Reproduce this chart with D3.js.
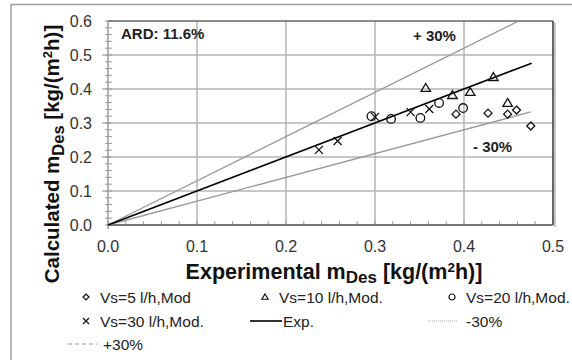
<!DOCTYPE html>
<html><head><meta charset="utf-8">
<script src="https://cdn.jsdelivr.net/npm/d3@7"></script>
<style>body{margin:0;background:#fff}svg{display:block}text{font-family:"Liberation Sans",Arial,sans-serif}</style>
</head><body>
<svg id="c" width="572" height="360"></svg>
<script>
// ---- data ----
const xTicks = [0, 0.1, 0.2, 0.3, 0.4, 0.5];
const xTickLabels = ["0.0", "0.1", "0.2", "0.3", "0.4", "0.5"];
const yTicks = [0, 0.1, 0.2, 0.3, 0.4, 0.5, 0.6];
const yTickLabels = ["0.0", "0.1", "0.2", "0.3", "0.4", "0.5", "0.6"];
const vs5 = [[0.391,0.326],[0.427,0.329],[0.449,0.326],[0.459,0.338],[0.475,0.291]];
const vs10 = [[0.357,0.403],[0.387,0.382],[0.407,0.391],[0.433,0.435],[0.449,0.359]];
const vs20 = [[0.296,0.320],[0.318,0.312],[0.351,0.315],[0.372,0.359],[0.399,0.344]];
const vs30 = [[0.237,0.221],[0.258,0.247],[0.300,0.318],[0.340,0.332],[0.361,0.341]];
const expLine = [[0,0],[0.476,0.476]];
const plus30 = [[0,0],[0.4615,0.6]];
const minus30 = [[0,0],[0.475,0.3325]];
const legendLabels = ["Vs=5 l/h,Mod","Vs=10 l/h,Mod.","Vs=20 l/h,Mod.","Vs=30 l/h,Mod.","Exp.","-30%","+30%"];

const svg = d3.select("#c");
const x = d3.scaleLinear().domain([0,0.5]).range([108,553]);
const y = d3.scaleLinear().domain([0,0.6]).range([225,21]);

// outer frame
svg.append("rect").attr("x",11).attr("y",4.5).attr("width",600).attr("height",400)
  .attr("fill","none").attr("stroke","#a0a0a0").attr("stroke-width",1.5);

// gridlines
const g = svg.append("g");
g.selectAll(".vg").data(xTicks.slice(1,-1)).join("line")
  .attr("x1",d=>x(d)).attr("x2",d=>x(d)).attr("y1",y(0.6)).attr("y2",y(0))
  .attr("stroke","#b4b4b4").attr("stroke-width",1.5);
g.selectAll(".hg").data(yTicks.slice(1,-1)).join("line")
  .attr("x1",x(0)-6).attr("x2",x(0.5)).attr("y1",d=>y(d)).attr("y2",d=>y(d))
  .attr("stroke","#b4b4b4").attr("stroke-width",1.5);

// minor ticks
const minorY = d3.range(0,0.6001,0.02);
g.selectAll(".my").data(minorY).join("line")
  .attr("x1",x(0)-3).attr("x2",x(0)+4).attr("y1",d=>y(d)).attr("y2",d=>y(d))
  .attr("stroke","#999").attr("stroke-width",1);
const minorX = d3.range(0,0.5001,0.02);
g.selectAll(".mx").data(minorX).join("line")
  .attr("x1",d=>x(d)).attr("x2",d=>x(d)).attr("y1",y(0)).attr("y2",y(0)-4)
  .attr("stroke","#999").attr("stroke-width",1);

// plot border with shadow
svg.append("line").attr("x1",x(0.5)+2).attr("x2",x(0.5)+2).attr("y1",y(0.6)+2).attr("y2",y(0)+2)
  .attr("stroke","#c8c8c8").attr("stroke-width",2);
svg.append("line").attr("x1",x(0)).attr("x2",x(0.5)).attr("y1",y(0.6)).attr("y2",y(0.6))
  .attr("stroke","#666").attr("stroke-width",1.5);
svg.append("line").attr("x1",x(0.5)).attr("x2",x(0.5)).attr("y1",y(0.6)).attr("y2",y(0))
  .attr("stroke","#555").attr("stroke-width",1.8);
// axes
svg.append("line").attr("x1",x(0)).attr("x2",x(0)).attr("y1",y(0.6)-1).attr("y2",y(0)+4)
  .attr("stroke","#999").attr("stroke-width",1.5);
svg.append("line").attr("x1",x(0)).attr("x2",x(0.5)).attr("y1",y(0)).attr("y2",y(0))
  .attr("stroke","#777").attr("stroke-width",2);

// tick labels
svg.selectAll(".yl").data(yTicks).join("text")
  .attr("x",92).attr("y",d=>y(d)+5.5).attr("text-anchor","end")
  .attr("font-size",16).attr("fill","#333").text((d,i)=>yTickLabels[i]);
svg.selectAll(".xl").data(xTicks).join("text")
  .attr("x",d=>x(d)).attr("y",252).attr("text-anchor","middle")
  .attr("font-size",16).attr("fill","#333").text((d,i)=>xTickLabels[i]);

// lines
const line = d3.line().x(d=>x(d[0])).y(d=>y(d[1]));
svg.append("path").attr("d",line(plus30)).attr("stroke","#999").attr("stroke-width",1.3).attr("fill","none");
svg.append("path").attr("d",line(minus30)).attr("stroke","#999").attr("stroke-width",1.3).attr("fill","none");
svg.append("path").attr("d",line(expLine)).attr("stroke","#000").attr("stroke-width",1.6).attr("fill","none");

// marker shapes
function diamond(s){return `M0,${-s}L${s},0L0,${s}L${-s},0Z`;}
function tri(s){return `M0,${-s}L${s*1.05},${s*0.75}L${-s*1.05},${s*0.75}Z`;}
function cross(s){return `M${-s},${-s}L${s},${s}M${-s},${s}L${s},${-s}`;}
function circ(r){return `M${r},0A${r},${r} 0 1,1 ${-r},0A${r},${r} 0 1,1 ${r},0Z`;}

const mk = svg.append("g").attr("fill","none").attr("stroke","#111").attr("stroke-width",1.3);
mk.selectAll(".d").data(vs5).join("path").attr("transform",d=>`translate(${x(d[0])},${y(d[1])})`).attr("d",diamond(4));
mk.selectAll(".t").data(vs10).join("path").attr("transform",d=>`translate(${x(d[0])},${y(d[1])})`).attr("d",tri(4.5));
mk.selectAll(".c").data(vs20).join("path").attr("transform",d=>`translate(${x(d[0])},${y(d[1])})`).attr("d",circ(4.3));
mk.selectAll(".x").data(vs30).join("path").attr("transform",d=>`translate(${x(d[0])},${y(d[1])})`).attr("d",cross(4));

// annotations
svg.append("text").attr("x",121).attr("y",39).attr("font-size",15).attr("font-weight","bold").attr("fill","#222").text("ARD: 11.6%");
svg.append("text").attr("x",413).attr("y",41).attr("font-size",15).attr("font-weight","bold").attr("fill","#222").text("+ 30%");
svg.append("text").attr("x",473).attr("y",152).attr("font-size",15).attr("font-weight","bold").attr("fill","#222").text("- 30%");

// axis titles
const xt = svg.append("text").attr("x",334).attr("y",279).attr("text-anchor","middle")
  .attr("font-size",21.5).attr("font-weight","bold").attr("fill","#111");
xt.append("tspan").text("Experimental m");
xt.append("tspan").attr("dy",4).attr("font-size",17).text("Des");
xt.append("tspan").attr("dy",-4).text(" [kg/(m");
xt.append("tspan").attr("dy",-7).attr("font-size",13.5).text("2");
xt.append("tspan").attr("dy",7).text("h)]");

const yt = svg.append("text").attr("transform","translate(59,154) rotate(-90)").attr("text-anchor","middle")
  .attr("font-size",20.5).attr("font-weight","bold").attr("fill","#111");
yt.append("tspan").text("Calculated m");
yt.append("tspan").attr("dy",5).attr("font-size",16.5).text("Des");
yt.append("tspan").attr("dy",-5).text(" [kg/(m");
yt.append("tspan").attr("dy",-7).attr("font-size",13).text("2");
yt.append("tspan").attr("dy",7).text("h)]");

// legend
const leg = svg.append("g").attr("font-size",15.5).attr("fill","#222");
const legItems = [
  {x:86,y:297,type:"d"},{x:265,y:297,type:"t"},{x:452,y:297,type:"c"},
  {x:86,y:321,type:"x"},{x:266,y:321,type:"line"},{x:443,y:321,type:"dot"},
  {x:83,y:344,type:"dash"}
];
legItems.forEach((it,i)=>{
  const gg = leg.append("g").attr("transform",`translate(${it.x},${it.y})`);
  let tx = 14;
  if(it.type==="d") gg.append("path").attr("d",diamond(3)).attr("fill","none").attr("stroke","#111").attr("stroke-width",1.2);
  if(it.type==="t") gg.append("path").attr("d",tri(3)).attr("fill","none").attr("stroke","#111").attr("stroke-width",1.2);
  if(it.type==="c") gg.append("path").attr("d",circ(3)).attr("fill","none").attr("stroke","#111").attr("stroke-width",1.2);
  if(it.type==="x") gg.append("path").attr("d",cross(3)).attr("fill","none").attr("stroke","#111").attr("stroke-width",1.2);
  if(it.type==="line"){gg.append("line").attr("x1",-16).attr("x2",16).attr("stroke","#000").attr("stroke-width",1.6); tx=17;}
  if(it.type==="dot"){gg.append("line").attr("x1",-15).attr("x2",15).attr("stroke","#aaa").attr("stroke-width",1).attr("stroke-dasharray","1,1"); tx=23;}
  if(it.type==="dash"){gg.append("line").attr("x1",-15).attr("x2",14).attr("stroke","#999").attr("stroke-width",1.2).attr("stroke-dasharray","4,3"); tx=20;}
  gg.append("text").attr("x",tx).attr("y",5.5).text(legendLabels[i]);
});
</script>
</body></html>
